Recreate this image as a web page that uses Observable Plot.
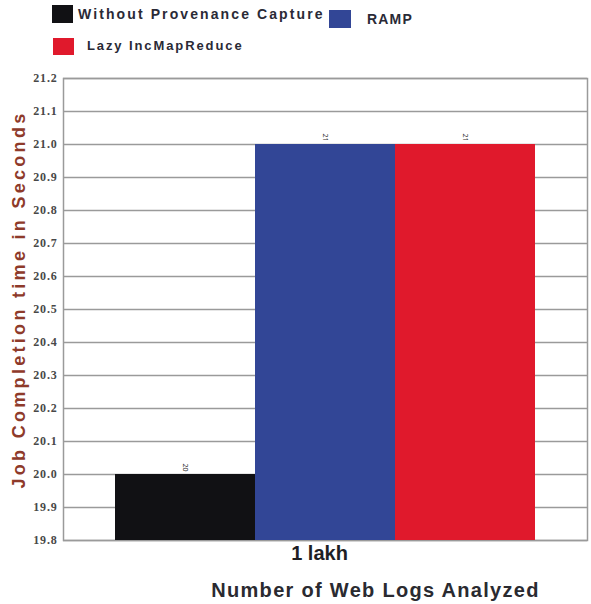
<!DOCTYPE html>
<html>
<head>
<meta charset="utf-8">
<script src="https://cdn.jsdelivr.net/npm/d3@7"></script>
<script src="https://cdn.jsdelivr.net/npm/@observablehq/plot@0.6"></script>
<style>
  html, body { margin: 0; padding: 0; background: #fff; }
  #wrap { position: relative; width: 591px; height: 604px; overflow: hidden; }
  .lg { position: absolute; font-family: Arial, "Liberation Sans", sans-serif; font-weight: bold; color: #2a2a36; white-space: nowrap; }
  .sw { position: absolute; }
</style>
</head>
<body>
<div id="wrap"></div>
<script>
const categories = ["1 lakh"];
const series = ["Without Provenance Capture", "RAMP", "Lazy IncMapReduce"];
const values = [20.0, 21.0, 21.0];
const colors = ["#111114", "#324696", "#e0192c"];
const yTicks = [19.8, 19.9, 20.0, 20.1, 20.2, 20.3, 20.4, 20.5, 20.6, 20.7, 20.8, 20.9, 21.0, 21.1, 21.2];
const yTitle = "Job Completion time in Seconds";
const xTitle = "Number of Web Logs Analyzed";

const data = series.map((s, i) => ({cat: categories[0], series: s, value: values[i]}));
const yMin = yTicks[0], yMax = yTicks[yTicks.length - 1];

const chart = Plot.plot({
  width: 591,
  height: 604,
  marginTop: 78,
  marginBottom: 64,
  marginLeft: 63,
  marginRight: 4,
  style: {background: "transparent"},
  fx: {domain: categories, padding: 0, label: null},
  x: {domain: series, paddingInner: 0, paddingOuter: 0.371, axis: null},
  y: {domain: [yMin, yMax], label: null},
  color: {domain: series, range: colors},
  marks: [
    Plot.gridY(yTicks, {stroke: "#9a9a9a", strokeOpacity: 1, strokeWidth: 1.5}),
    Plot.frame({stroke: "#9a9a9a", strokeWidth: 1.5}),
    Plot.barY(data, {fx: "cat", x: "series", y1: yMin, y2: "value", fill: "series"}),
    Plot.text(data, {fx: "cat", x: "series", y: "value", text: d => String(Math.round(d.value)), rotate: 90, dy: -7, fontSize: 7, fill: "#333"}),
    Plot.axisY({ticks: yTicks, tickFormat: d3.format(".1f"), tickSize: 0, tickPadding: 6, label: null,
      fontSize: 12, fontWeight: "bold", fontFamily: "Liberation Serif, serif", fill: "#484848"}),
    Plot.axisFx({anchor: "bottom", tickSize: 0, tickPadding: 5, label: null, fontSize: 20, fontWeight: "bold",
      fontFamily: "Arial, Liberation Sans, sans-serif", fill: "#1e1e24", dx: -6}),
    Plot.text([yTitle], {frameAnchor: "left", textAnchor: "middle", text: d => d, rotate: -90, dx: -44, dy: -10, fontSize: 18,
      fontWeight: "bold", fontFamily: "Arial, Liberation Sans, sans-serif", fill: "#8e3a2a"}),
    Plot.text([xTitle], {frameAnchor: "bottom", text: d => d, dx: 50, dy: 56, fontSize: 20,
      fontWeight: "bold", fontFamily: "Arial, Liberation Sans, sans-serif", fill: "#2a2a30"})
  ]
});
const wrap = document.getElementById("wrap");
wrap.appendChild(chart);

// Letter spacing to match the stretched raster text of the reference
d3.select(chart).selectAll("text").each(function() {
  const s = this.textContent;
  if (s === yTitle) this.style.letterSpacing = "3.3px";
  else if (s === xTitle) this.style.letterSpacing = "1.3px";
  else if (/^\d+\.\d$/.test(s)) this.style.letterSpacing = "0.8px";
});

// Legend (HTML overlay above the plot area)
const legend = [
  {i: 0, sx: 52, sy: 5, sw: 21, sh: 18, tx: 78, ty: 6, fs: 14, ls: 2.1},
  {i: 1, sx: 329, sy: 10, sw: 22, sh: 18, tx: 367, ty: 11, fs: 14, ls: 1.2},
  {i: 2, sx: 53, sy: 38, sw: 21, sh: 17, tx: 87, ty: 38, fs: 13, ls: 1.9}
];
legend.forEach(l => {
  const sw = document.createElement("div");
  sw.className = "sw";
  Object.assign(sw.style, {left: l.sx + "px", top: l.sy + "px", width: l.sw + "px", height: l.sh + "px", background: colors[l.i]});
  wrap.appendChild(sw);
  const t = document.createElement("div");
  t.className = "lg";
  t.textContent = series[l.i];
  Object.assign(t.style, {left: l.tx + "px", top: l.ty + "px", fontSize: l.fs + "px", letterSpacing: l.ls + "px"});
  wrap.appendChild(t);
});
</script>
</body>
</html>
